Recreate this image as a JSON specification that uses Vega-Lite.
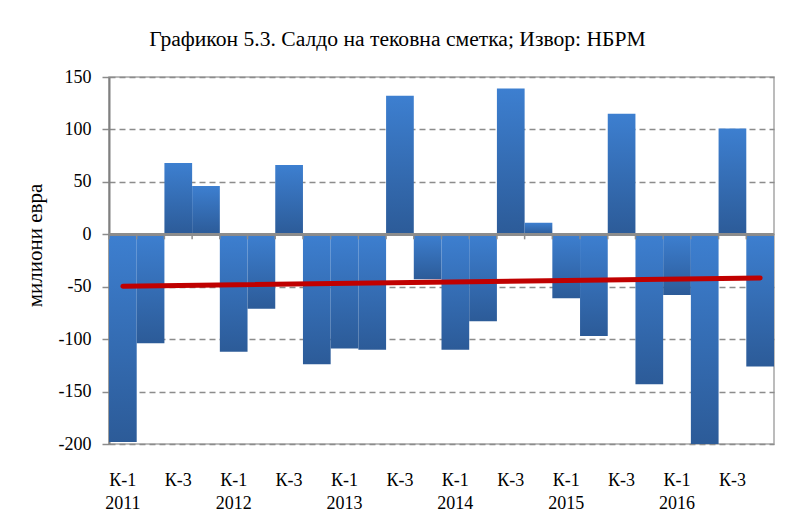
{
  "$schema": "https://vega.github.io/schema/vega-lite/v6.json",
  "autosize": "none",
  "width": 665,
  "height": 367,
  "padding": {"left": 109, "top": 77, "right": 11, "bottom": 88},
  "background": "white",
  "title": {
    "text": "Графикон 5.3. Салдо на тековна сметка; Извор: НБРМ",
    "anchor": "middle",
    "frame": "group",
    "dx": -44,
    "offset": 17,
    "font": "Liberation Serif",
    "fontSize": 21.6,
    "fontWeight": "normal",
    "color": "#000000"
  },
  "config": {
    "view": {"stroke": "#a6a6a6", "strokeWidth": 1.5},
    "axis": {
      "labelFont": "Liberation Serif",
      "titleFont": "Liberation Serif",
      "labelColor": "#000000",
      "titleColor": "#000000"
    }
  },
  "data": {
    "values": [
      {"q": "2011-К1", "v": -198, "trend": -49.6},
      {"q": "2011-К2", "v": -104},
      {"q": "2011-К3", "v": 68},
      {"q": "2011-К4", "v": 46},
      {"q": "2012-К1", "v": -112},
      {"q": "2012-К2", "v": -71},
      {"q": "2012-К3", "v": 66},
      {"q": "2012-К4", "v": -124},
      {"q": "2013-К1", "v": -109},
      {"q": "2013-К2", "v": -110},
      {"q": "2013-К3", "v": 132},
      {"q": "2013-К4", "v": -43},
      {"q": "2014-К1", "v": -110},
      {"q": "2014-К2", "v": -83},
      {"q": "2014-К3", "v": 139},
      {"q": "2014-К4", "v": 11},
      {"q": "2015-К1", "v": -61},
      {"q": "2015-К2", "v": -97},
      {"q": "2015-К3", "v": 115},
      {"q": "2015-К4", "v": -143},
      {"q": "2016-К1", "v": -58},
      {"q": "2016-К2", "v": -200},
      {"q": "2016-К3", "v": 101},
      {"q": "2016-К4", "v": -126, "trend": -41.6}
    ]
  },
  "layer": [
    {
      "mark": {
        "type": "bar",
        "color": {
          "gradient": "linear",
          "x1": 0, "y1": 0, "x2": 0, "y2": 1,
          "stops": [
            {"offset": 0, "color": "#3d7fd0"},
            {"offset": 1, "color": "#2c5b98"}
          ]
        }
      },
      "encoding": {
        "x": {
          "field": "q",
          "type": "nominal",
          "sort": null,
          "scale": {"paddingInner": 0, "paddingOuter": 0},
          "axis": {
            "title": null,
            "orient": "bottom",
            "domain": false,
            "ticks": false,
            "labelAngle": 0,
            "labelPadding": 27,
            "labelFontSize": 18,
            "labelLineHeight": 23,
            "labelBaseline": "top",
            "labelOverlap": false,
            "labelExpr": "slice(datum.value,5)=='К1' ? ['К-1', slice(datum.value,0,4)] : (slice(datum.value,5)=='К3' ? 'К-3' : '')"
          }
        },
        "y": {
          "field": "v",
          "type": "quantitative",
          "scale": {"domain": [-200, 150], "nice": false},
          "axis": {
            "title": "милиони евра",
            "titleFontSize": 21,
            "titleFontWeight": "normal",
            "titleAngle": -90,
            "titleX": -74,
            "titleY": 168,
            "titleAlign": "center",
            "titleBaseline": "middle",
            "values": [-200, -150, -100, -50, 0, 50, 100, 150],
            "labelExpr": "replace(datum.label, '−', '-')",
            "labelFontSize": 18,
            "labelPadding": 11,
            "domainColor": "#808080",
            "domainWidth": 2,
            "tickColor": "#8c8c8c",
            "tickWidth": 1.5,
            "tickSize": 7,
            "grid": true,
            "gridColor": "#8c8c8c",
            "gridWidth": 1.5,
            "gridDash": [6, 4]
          }
        }
      }
    },
    {
      "mark": {"type": "rule", "color": "#8c8c8c", "strokeWidth": 1.5},
      "encoding": {
        "x": {"field": "q", "type": "nominal", "sort": null, "bandPosition": 0},
        "y": {"datum": 0},
        "y2": {"datum": -4.8}
      }
    },
    {
      "mark": {"type": "rule", "color": "#8c8c8c", "strokeWidth": 2},
      "encoding": {"y": {"datum": 0}}
    },
    {
      "transform": [{"filter": "isValid(datum.trend)"}],
      "mark": {"type": "line", "color": "#c00000", "strokeWidth": 5, "strokeCap": "round"},
      "encoding": {
        "x": {"field": "q", "type": "nominal", "sort": null},
        "y": {"field": "trend", "type": "quantitative"}
      }
    }
  ]
}
